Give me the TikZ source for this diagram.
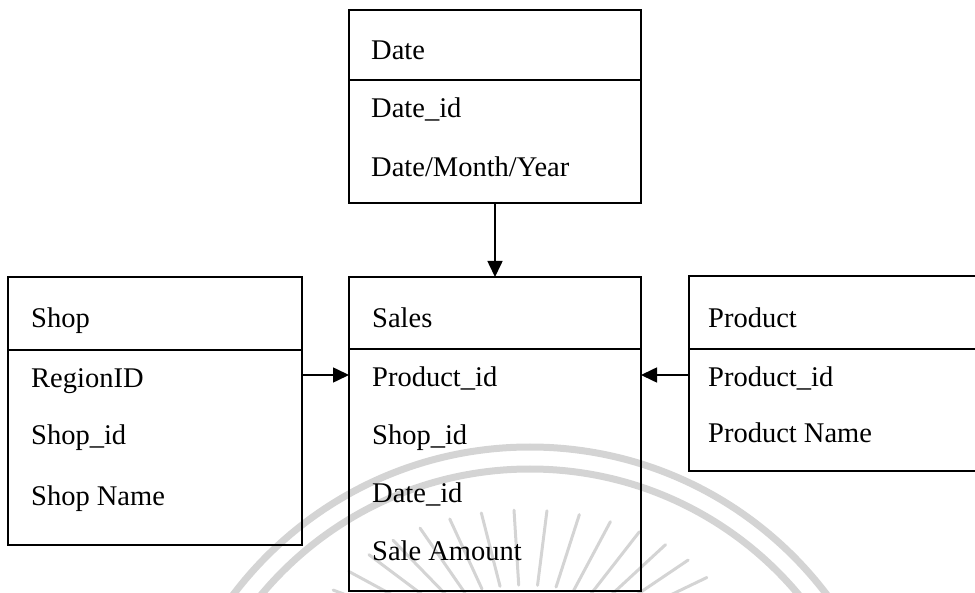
\documentclass[tikz,border=0pt]{standalone}
\usepackage{fontspec}
\setmainfont{Liberation Serif}
\usetikzlibrary{arrows.meta}

\tikzset{
  table/.style={draw=black, line width=1.6pt, inner sep=0pt, outer sep=0pt},
  divider/.style={draw=black, line width=1.6pt},
  field/.style={anchor=base west, inner sep=0pt, font=\fontsize{28.5}{33}\selectfont},
  link/.style={draw=black, line width=1.6pt, -{Triangle[length=16pt,width=15pt]}},
  seal/.style={draw=black!17, line width=7pt},
  ray/.style={draw=black!17, line width=3pt, line cap=round},
}

\begin{document}
\begin{tikzpicture}[x=1pt, y=-1pt]
\useasboundingbox (0,0) rectangle (975,593);

% faint seal in the background
\begin{scope}
  \clip (0,0) rectangle (975,593);
  \draw[seal] (530,819) circle[radius=372];
  \draw[seal] (530,819) circle[radius=350];
  \foreach \a in {12,21,...,168} {
    \draw[ray] ({525+120*cos(\a)},{645-60*sin(\a)}) -- ({525+210*cos(\a)},{645-135*sin(\a)});
  }
\end{scope}

% tables
\node[table, minimum width=292pt, minimum height=193pt] (date)    at (495,106.5) {};
\node[table, minimum width=292pt, minimum height=314pt] (sales)   at (495,434)   {};
\node[table, minimum width=294pt, minimum height=268pt] (shop)    at (155,411)   {};
\node[table, minimum width=301pt, minimum height=195pt] (product) at (839.5,373.5) {};

% header dividers
\draw[divider] (date.west    |- 0,80)  -- (date.east    |- 0,80);
\draw[divider] (sales.west   |- 0,349) -- (sales.east   |- 0,349);
\draw[divider] (shop.west    |- 0,350) -- (shop.east    |- 0,350);
\draw[divider] (product.west |- 0,349) -- (product.east |- 0,349);

% Date
\node[field] (dateT)  at (371,60)  {Date};
\node[field] (dateF1) at (371,118) {Date\_id};
\node[field] (dateF2) at (371,177) {Date/Month/Year};

% Shop
\node[field] (shopT)  at (31,328) {Shop};
\node[field] (shopF1) at (31,388) {RegionID};
\node[field] (shopF2) at (31,445) {Shop\_id};
\node[field] (shopF3) at (31,505) {Shop Name};

% Sales
\node[field] (salesT)  at (372,328) {Sales};
\node[field] (salesF1) at (372,387) {Product\_id};
\node[field] (salesF2) at (372,445) {Shop\_id};
\node[field] (salesF3) at (372,503) {Date\_id};
\node[field] (salesF4) at (372,560) {Sale Amount};

% Product
\node[field] (prodT)  at (708,328) {Product};
\node[field] (prodF1) at (708,387) {Product\_id};
\node[field] (prodF2) at (708,443) {Product Name};

% connectors
\coordinate (keyrow) at (0,375);
\draw[link] (date.south) -- (sales.north);
\draw[link] (shop.east |- keyrow) -- (sales.west |- keyrow);
\draw[link] (product.west |- keyrow) -- (sales.east |- keyrow);
\end{tikzpicture}
\end{document}
